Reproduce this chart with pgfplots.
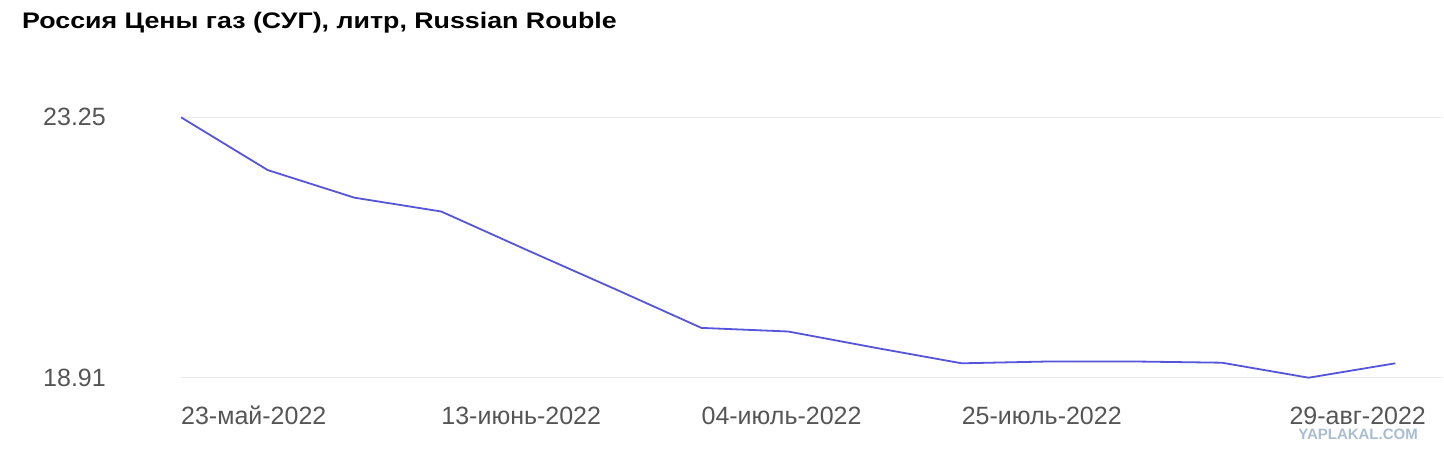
\documentclass[border=0pt]{standalone}
\usepackage{fontspec}
\setmainfont{Liberation Sans}
\newfontfamily\titlefont[FakeStretch=1.19]{Liberation Sans}
\usepackage{pgfplots}
\pgfplotsset{compat=1.18}
\definecolor{linec}{RGB}{85,85,220}
\definecolor{gridc}{RGB}{236,236,236}
\definecolor{tickc}{RGB}{85,85,85}
\definecolor{wmc}{RGB}{168,188,210}
\begin{document}
\begin{tikzpicture}[x=1pt,y=1pt]
\path[use as bounding box] (0,0) rectangle (1444,466);
\node[anchor=base west, inner sep=0pt, font=\titlefont\fontsize{22.5}{26}\selectfont\bfseries] at (22,437) {Россия Цены газ (СУГ), литр, Russian Rouble};
\begin{axis}[
  at={(181pt,88.3pt)}, anchor=south west,
  scale only axis, width=1262pt, height=260.4pt,
  xmin=0, xmax=14.55, ymin=18.91, ymax=23.25,
  clip=false,
  axis line style={draw=none},
  tick style={draw=none},
  ymajorgrids,
  major grid style={gridc, line width=1.2pt},
  ytick={18.91,23.25}, yticklabels={18.91,23.25},
  xtick={0,3,6,9,14},
  xticklabels={23-май-2022,13-июнь-2022,04-июль-2022,25-июль-2022,\hspace*{-106pt}29-авг-2022},
  xticklabel style={anchor=base west, inner sep=0pt, yshift=-47pt, font=\fontsize{25}{30}\selectfont, text=tickc},
  yticklabel style={anchor=east, inner sep=0pt, xshift=-75pt, font=\fontsize{25}{30}\selectfont, text=tickc},
]
\addplot[linec, line width=1.8pt, line join=round] coordinates {
(0,23.25) (1,22.37) (2,21.91) (3,21.68) (4,21.03) (5,20.39) (6,19.74)
(7,19.68) (8,19.41) (9,19.15) (10,19.18) (11,19.18) (12,19.16) (13,18.91) (14,19.15)
};
\end{axis}
\node[anchor=base east, inner sep=0pt, font=\fontsize{15}{18}\selectfont\bfseries, text=wmc] at (1418,26) {YAPLAKAL.COM};
\end{tikzpicture}
\end{document}
